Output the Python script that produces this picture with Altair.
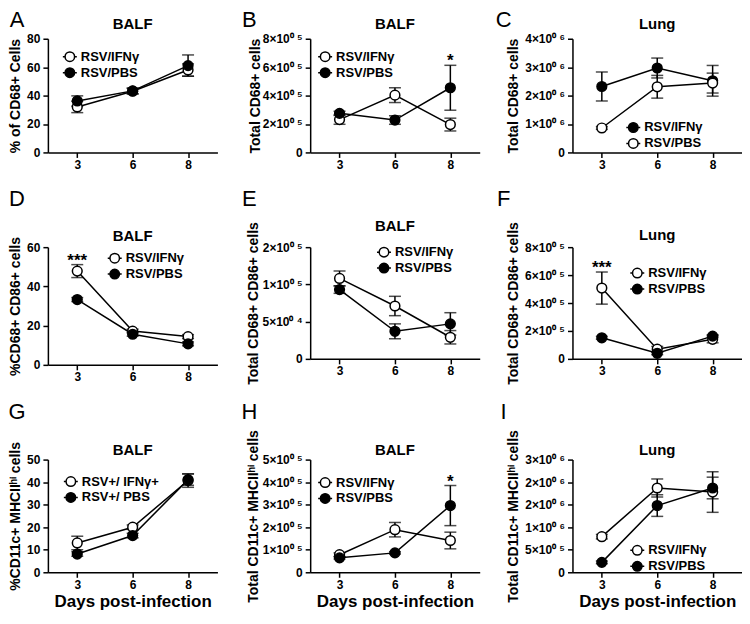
import altair as alt
import pandas as pd

FONT = "Liberation Sans"
DAYS = ["3", "6", "8"]

# ---- values: means and error-bar half-lengths ----
A_IFN = [32.0, 43.1, 58.0];     A_IFN_ERR = [4.0, 2.0, 4.3]
A_PBS = [36.2, 43.3, 61.1];     A_PBS_ERR = [3.6, 2.0, 7.5]

B_IFN = [2.31e5, 4.03e5, 1.96e5]; B_IFN_ERR = [0.33e5, 0.52e5, 0.45e5]
B_PBS = [2.75e5, 2.28e5, 4.55e5]; B_PBS_ERR = [0.15e5, 0.30e5, 1.58e5]

C_IFN = [2.32e6, 2.97e6, 2.52e6]; C_IFN_ERR = [0.51e6, 0.35e6, 0.54e6]
C_PBS = [0.86e6, 2.31e6, 2.44e6]; C_PBS_ERR = [0.05e6, 0.40e6, 0.35e6]

D_IFN = [47.8, 17.2, 14.4];     D_IFN_ERR = [3.3, 1.0, 1.0]
D_PBS = [33.3, 15.6, 10.7];     D_PBS_ERR = [1.0, 1.0, 1.0]

E_IFN = [1.08e5, 0.71e5, 0.29e5]; E_IFN_ERR = [0.10e5, 0.13e5, 0.09e5]
E_PBS = [0.93e5, 0.37e5, 0.47e5]; E_PBS_ERR = [0.05e5, 0.10e5, 0.15e5]

F_IFN = [5.07e5, 0.69e5, 1.40e5]; F_IFN_ERR = [1.15e5, 0.20e5, 0.25e5]
F_PBS = [1.51e5, 0.40e5, 1.63e5]; F_PBS_ERR = [0.10e5, 0.10e5, 0.10e5]

G_IFN = [13.0, 20.0, 40.7];     G_IFN_ERR = [3.0, 1.0, 3.0]
G_PBS = [8.1, 16.3, 41.1];      G_PBS_ERR = [1.0, 1.0, 2.5]

H_IFN = [0.78e5, 1.89e5, 1.41e5]; H_IFN_ERR = [0.08e5, 0.32e5, 0.37e5]
H_PBS = [0.64e5, 0.86e5, 2.96e5]; H_PBS_ERR = [0.05e5, 0.05e5, 0.89e5]

I_IFN = [0.79e6, 1.87e6, 1.78e6]; I_IFN_ERR = [0.05e6, 0.20e6, 0.45e6]
I_PBS = [0.22e6, 1.48e6, 1.87e6]; I_PBS_ERR = [0.03e6, 0.24e6, 0.24e6]

# ---- labels ----
IFN = "RSV/IFNγ"
PBS = "RSV/PBS"
G_IFN_LABEL = "RSV+/ IFNγ+"
G_PBS_LABEL = "RSV+/ PBS"

PCT80 = [0, 20, 40, 60, 80]
PCT60 = [0, 20, 40, 60]
PCT50 = [0, 10, 20, 30, 40, 50]
B_TICKS = [0, 2e5, 4e5, 6e5, 8e5]
B_TICK_LABELS = ["0", "2×10⁰ ⁵", "4×10⁰ ⁵", "6×10⁰ ⁵", "8×10⁰ ⁵"]
C_TICKS = [0, 1e6, 2e6, 3e6, 4e6]
C_TICK_LABELS = ["0", "1×10⁰ ⁶", "2×10⁰ ⁶", "3×10⁰ ⁶", "4×10⁰ ⁶"]
E_TICKS = [0, 5e4, 1e5, 1.5e5]
E_TICK_LABELS = ["0", "5×10⁰ ⁴", "1×10⁰ ⁵", "2×10⁰ ⁵"]
H_TICKS = [0, 1e5, 2e5, 3e5, 4e5, 5e5]
H_TICK_LABELS = ["0", "1×10⁰ ⁵", "2×10⁰ ⁵", "3×10⁰ ⁵", "4×10⁰ ⁵", "5×10⁰ ⁵"]
I_TICKS = [0, 5e5, 1e6, 1.5e6, 2e6, 2.5e6]
I_TICK_LABELS = ["0", "5×10⁰ ⁵", "1×10⁰ ⁶", "2×10⁰ ⁶", "2×10⁰ ⁶", "3×10⁰ ⁶"]

SYMBOL = "M-1,0L-0.68,0M0.68,0L1,0M-0.68,0A0.68,0.68,0,1,1,0.68,0A0.68,0.68,0,1,1,-0.68,0Z"

PANELS = [
    dict(letter="A", title="BALF", ytitle="% of CD68+ Cells",
         series=[(IFN, A_IFN, A_IFN_ERR, "white"), (PBS, A_PBS, A_PBS_ERR, "black")],
         ticks=PCT80, tlabels=[str(t) for t in PCT80], h=114, ytx=-32, lpos=(14, 10), lsize=12,
         letterpos=(-31, -19), ty=-15, stars=[]),
    dict(letter="B", title="BALF", ytitle="Total CD68+ cells",
         series=[(IFN, B_IFN, B_IFN_ERR, "white"), (PBS, B_PBS, B_PBS_ERR, "black")],
         ticks=B_TICKS, tlabels=B_TICK_LABELS, h=114, ytx=-55, lpos=(7, 10), lsize=12,
         letterpos=(-61, -19), ty=-15, stars=[("8", PBS, "*")]),
    dict(letter="C", title="Lung", ytitle="Total CD68+ cells",
         series=[(IFN, C_IFN, C_IFN_ERR, "black"), (PBS, C_PBS, C_PBS_ERR, "white")],
         ticks=C_TICKS, tlabels=C_TICK_LABELS, h=114, ytx=-59, lpos=(53, 81), lsize=12,
         letterpos=(-69, -19), ty=-15, stars=[]),
    dict(letter="D", title="BALF", ytitle="%CD68+ CD86+ cells",
         series=[(IFN, D_IFN, D_IFN_ERR, "white"), (PBS, D_PBS, D_PBS_ERR, "black")],
         ticks=PCT60, tlabels=[str(t) for t in PCT60], h=118, ytx=-32, lpos=(59, 3), lsize=12,
         letterpos=(-31, -48), ty=-11, stars=[("3", IFN, "***")]),
    dict(letter="E", title="BALF", ytitle="Total CD68+ CD86+ cells",
         series=[(IFN, E_IFN, E_IFN_ERR, "white"), (PBS, E_PBS, E_PBS_ERR, "black")],
         ticks=E_TICKS, tlabels=E_TICK_LABELS, h=112, ytx=-57, lpos=(66, -3), lsize=12,
         letterpos=(-61, -48), ty=-21, stars=[]),
    dict(letter="F", title="Lung", ytitle="Total CD68+ CD86+ cells",
         series=[(IFN, F_IFN, F_IFN_ERR, "white"), (PBS, F_PBS, F_PBS_ERR, "black")],
         ticks=B_TICKS, tlabels=B_TICK_LABELS, h=112, ytx=-59, lpos=(57, 18), lsize=12,
         letterpos=(-69, -48), ty=-12, stars=[("3", IFN, "***")]),
    dict(letter="G", title="BALF", ytitle="%CD11c+ MHCIIʰⁱ cells",
         series=[(G_IFN_LABEL, G_IFN, G_IFN_ERR, "white"), (G_PBS_LABEL, G_PBS, G_PBS_ERR, "black")],
         ticks=PCT50, tlabels=[str(t) for t in PCT50], h=113, ytx=-32, lpos=(15, 14), lsize=12,
         letterpos=(-31, -48), ty=-10, stars=[]),
    dict(letter="H", title="BALF", ytitle="Total CD11c+ MHCIIʰⁱ cells",
         series=[(IFN, H_IFN, H_IFN_ERR, "white"), (PBS, H_PBS, H_PBS_ERR, "black")],
         ticks=H_TICKS, tlabels=H_TICK_LABELS, h=113, ytx=-57, lpos=(7, 15), lsize=12,
         letterpos=(-61, -48), ty=-10, stars=[("8", PBS, "*")]),
    dict(letter="I", title="Lung", ytitle="Total CD11c+ MHCIIʰⁱ cells",
         series=[(IFN, I_IFN, I_IFN_ERR, "white"), (PBS, I_PBS, I_PBS_ERR, "black")],
         ticks=I_TICKS, tlabels=I_TICK_LABELS, h=113, ytx=-59, lpos=(57, 83), lsize=12,
         letterpos=(-69, -48), ty=-10, stars=[]),
]

W = 170


def label_expr(ticks, labels):
    expr = "''"
    for t, l in reversed(list(zip(ticks, labels))):
        expr = f"datum.value == {float(t)!r} ? '{l}' : ({expr})"
    return expr


def panel(p, xtitle):
    rows = []
    for label, vals, errs, _ in p["series"]:
        for d, v, e in zip(DAYS, vals, errs):
            rows.append(dict(day=d, group=label, value=v, lo=v - e, hi=v + e))
    df = pd.DataFrame(rows)
    labels = [s[0] for s in p["series"]]
    fills = [s[3] for s in p["series"]]
    h = p["h"]
    ymax = p["ticks"][-1]

    xaxis_kw = dict(labelAngle=0, labelPadding=2, labelFontSize=12)
    if xtitle:
        xaxis_kw.update(title="Days post-infection", titleFontSize=17, titlePadding=3)
    else:
        xaxis_kw.update(title=None)
    xscale = alt.Scale(type="point", padding=0.53)
    xaxis = alt.Axis(**xaxis_kw)
    x = alt.X("day:O", sort=DAYS, scale=xscale, axis=xaxis)
    yscale = alt.Scale(domain=[0, ymax], nice=False, zero=True)
    yaxis = alt.Axis(values=p["ticks"], labelExpr=label_expr(p["ticks"], p["tlabels"]),
                     labelFontSize=p["lsize"], labelPadding=3,
                     title=p["ytitle"], titleX=p["ytx"], titleY=h / 2,
                     titleBaseline="middle", titleFontSize=14)

    def Y(field):
        return alt.Y(field, scale=yscale, axis=yaxis)

    base = alt.Chart(df)
    line = base.mark_line(color="black", strokeWidth=1.5).encode(x=x, y=Y("value:Q"), detail="group:N")
    rule = base.mark_rule(color="black", strokeWidth=1.5).encode(x=x, y=Y("lo:Q"), y2="hi:Q")
    cap_lo = base.mark_tick(orient="horizontal", color="black", size=12, thickness=1.5).encode(
        x=x, y=Y("lo:Q"))
    cap_hi = base.mark_tick(orient="horizontal", color="black", size=12, thickness=1.5).encode(
        x=x, y=Y("hi:Q"))
    pts = base.mark_point(shape="circle", filled=True, size=95, stroke="black", strokeWidth=1.5,
                          opacity=1).encode(
        x=x, y=Y("value:Q"),
        fill=alt.Fill("group:N", scale=alt.Scale(domain=labels, range=fills),
                      legend=alt.Legend(title=None, orient="none",
                                        legendX=p["lpos"][0], legendY=p["lpos"][1],
                                        symbolType=SYMBOL, symbolSize=196,
                                        symbolStrokeColor="black", symbolStrokeWidth=1.5,
                                        labelFont=FONT, labelFontWeight="bold",
                                        labelFontSize=13, labelColor="black",
                                        labelOffset=3, rowPadding=-2, padding=0)))
    layers = [line, rule, cap_lo, cap_hi, pts]

    if p["stars"]:
        srows = []
        for d, g, t in p["stars"]:
            r = df[(df.day == d) & (df.group == g)].iloc[0]
            srows.append(dict(day=d, hi=r["hi"], txt=t))
        stars = alt.Chart(pd.DataFrame(srows)).mark_text(
            font=FONT, fontWeight="bold", fontSize=17, color="black", baseline="middle", dy=-4
        ).encode(x=x, y=Y("hi:Q"), text="txt:N")
        layers.append(stars)

    letter = alt.Chart(pd.DataFrame({"t": [p["letter"]]})).mark_text(
        font=FONT, fontSize=22, color="black", align="center", baseline="middle"
    ).encode(text="t:N", x=alt.value(p["letterpos"][0]), y=alt.value(p["letterpos"][1]))
    title = alt.Chart(pd.DataFrame({"t": [p["title"]]})).mark_text(
        font=FONT, fontSize=15, fontWeight="bold", color="black", align="center", baseline="middle"
    ).encode(text="t:N", x=alt.value(W / 2), y=alt.value(p["ty"]))
    layers += [letter, title]

    return alt.layer(*layers).properties(width=W, height=h).resolve_scale(fill="independent")


charts = [panel(PANELS[i], xtitle=(i >= 6)) for i in range(9)]

chart = (
    alt.concat(*charts, columns=3, spacing={"row": 95, "column": 93}, bounds="flush", align="each")
    .resolve_scale(x="independent", y="independent", fill="independent")
    .resolve_legend(fill="independent")
    .properties(padding=0, background="white")
    .configure_view(strokeWidth=0)
    .configure_axis(
        domainColor="black", domainWidth=1.5, tickColor="black", tickWidth=1.5, tickSize=5,
        labelFont=FONT, labelFontWeight="bold", labelColor="black",
        titleFont=FONT, titleFontWeight="bold", titleColor="black", grid=False,
    )
)

chart.save("out.html", embed_options={"renderer": "svg", "actions": False})
